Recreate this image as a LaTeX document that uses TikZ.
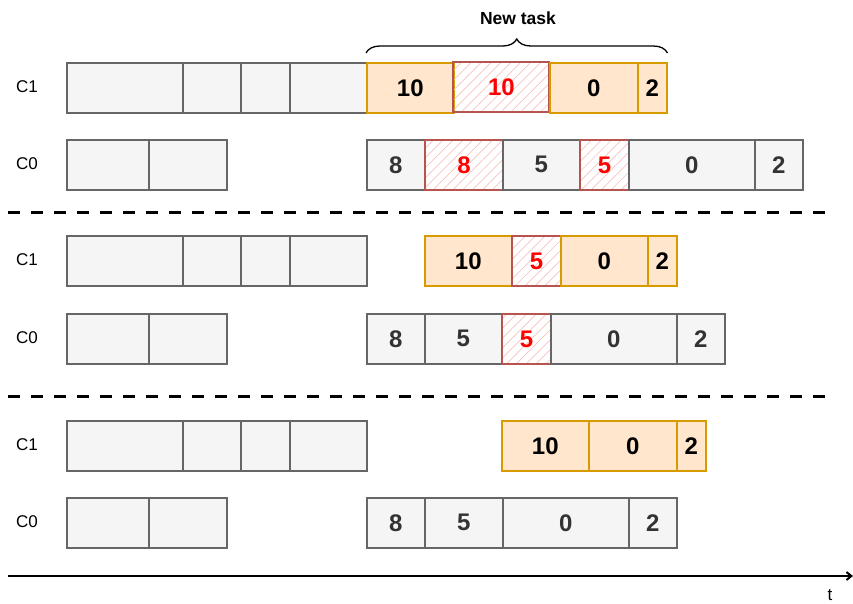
\documentclass[tikz,border=0pt]{standalone}
\usepackage{fontspec}
\setsansfont{Liberation Sans}
\usetikzlibrary{positioning, arrows.meta, patterns.meta, decorations.pathreplacing}
\definecolor{cIdleFill}{HTML}{F5F5F5}
\definecolor{cIdleLine}{HTML}{666666}
\definecolor{cIdleText}{HTML}{333333}
\definecolor{cTaskFill}{HTML}{FFE6CC}
\definecolor{cTaskLine}{HTML}{D79B00}
\definecolor{cDropLine}{HTML}{B85450}
\definecolor{cHatch}{HTML}{F5C2C0}
\definecolor{cDropText}{HTML}{FF0000}

\begin{document}
\begin{tikzpicture}[
  x=1pt, y=-1pt,
  font=\sffamily,
  cell/.style={draw=cIdleLine, fill=cIdleFill, line width=1.5pt, text=cIdleText,
               minimum height=50pt, inner sep=0pt, anchor=north west,
               font=\sffamily\bfseries\fontsize{24}{24}\selectfont},
  task/.style={cell, draw=cTaskLine, fill=cTaskFill, text=black},
  drop/.style={cell, draw=cDropLine, fill=none, text=cDropText, line width=2pt,
               pattern={Lines[angle=45, distance=7pt, line width=0.7pt]},
               pattern color=cHatch},
  core/.style={font=\sffamily\fontsize{17}{17}\selectfont},
  sep/.style={line width=3pt, dash pattern=on 12pt off 11pt},
]
\useasboundingbox (0,0) rectangle (853,603);

% ---- earlier work on both cores (same in every step) --------------------
\foreach \s/\ya/\yb in {1/62/139, 2/235/313, 3/420/497} {
  \node[core] (lab\s c1) at (27,\ya+25) {C1};
  \node[core] (lab\s c0) at (27,\yb+25) {C0};
  \foreach \x/\w [count=\i] in {66/116, 182/58, 240/49, 289/77}
    \node[cell, minimum width=\w pt] (old\s c1\i) at (\x,\ya) {};
  \foreach \x/\w [count=\i] in {66/82, 148/78}
    \node[cell, minimum width=\w pt] (old\s c0\i) at (\x,\yb) {};
}

% ---- step 1: new task arrives -------------------------------------------
\foreach \x/\w/\k/\t [count=\i] in {366/87/task/10, 453/96/drop/10,
                                    549/88/task/0, 637/29/task/2}
  \node[\k, minimum width=\w pt] (a c1\i) at (\x,62) {\t};
\foreach \x/\w/\k/\t [count=\i] in {366/58/cell/8, 424/78/drop/8, 502/77/cell/5,
                                    579/49/drop/5, 628/126/cell/0, 754/48/cell/2}
  \node[\k, minimum width=\w pt] (a c0\i) at (\x,139) {\t};

\draw[decorate, decoration={brace, amplitude=14pt, raise=9pt}, line width=1.3pt]
  (a c11.north west) -- (a c14.north east);
\node[font=\sffamily\bfseries\fontsize{17.5}{17.5}\selectfont] (newtask) at (518,18) {New task};

% ---- step 2 ----------------------------------------------------------------
\foreach \x/\w/\k/\t [count=\i] in {424/87/task/10, 511/49/drop/5,
                                    560/87/task/0, 647/29/task/2}
  \node[\k, minimum width=\w pt] (b c1\i) at (\x,235) {\t};
\foreach \x/\w/\k/\t [count=\i] in {366/58/cell/8, 424/77/cell/5, 501/49/drop/5,
                                    550/126/cell/0, 676/48/cell/2}
  \node[\k, minimum width=\w pt] (b c0\i) at (\x,313) {\t};

% ---- step 3 ----------------------------------------------------------------
\foreach \x/\w/\k/\t [count=\i] in {501/87/task/10, 588/88/task/0, 676/29/task/2}
  \node[\k, minimum width=\w pt] (c c1\i) at (\x,420) {\t};
\foreach \x/\w/\k/\t [count=\i] in {366/58/cell/8, 424/78/cell/5,
                                    502/126/cell/0, 628/48/cell/2}
  \node[\k, minimum width=\w pt] (c c0\i) at (\x,497) {\t};

% ---- separators and time axis -------------------------------------------
\coordinate (s1l) at (8,212);  \coordinate (s1r) at (834,212);
\coordinate (s2l) at (8,396);  \coordinate (s2r) at (834,396);
\draw[sep] (s1l) -- (s1r);
\draw[sep] (s2l) -- (s2r);

\coordinate (t0) at (8,576);  \coordinate (t1) at (853,576);
\draw[line width=2pt, -{Straight Barb[length=5pt, width=8pt]}] (t0) -- (t1);
\node[core] (tlab) at (830,595) {t};

\end{tikzpicture}
\end{document}
